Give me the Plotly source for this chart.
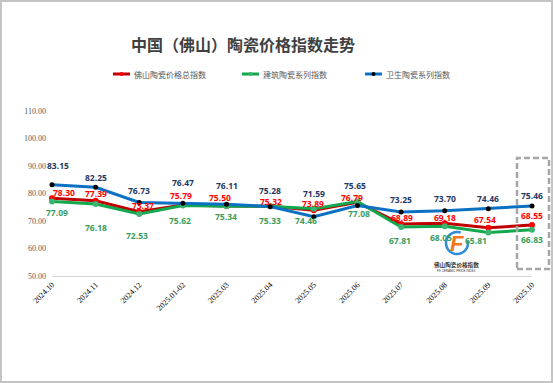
import math
import plotly.graph_objects as go

categories = ["2024.10", "2024.11", "2024.12", "2025.01-02", "2025.03", "2025.04",
              "2025.05", "2025.06", "2025.07", "2025.08", "2025.09", "2025.10"]
total_index = [78.30, 77.39, 73.37, 75.79, 75.50, 75.32, 73.89, 76.79, 68.89, 69.18, 67.54, 68.55]
building_index = [77.09, 76.18, 72.53, 75.62, 75.34, 75.33, 74.46, 77.08, 67.81, 68.05, 65.81, 66.83]
sanitary_index = [83.15, 82.25, 76.73, 76.47, 76.11, 75.28, 71.59, 75.65, 73.25, 73.70, 74.46, 75.46]
y_ticks = [50, 60, 70, 80, 90, 100, 110]

# label nudges (pixels)
red_dx = [12, 0, 4, -2, -7, 1, -1, -5, 1, 0, -3, 0]
red_dy = [6, 7, 6, 10, 8, 5, 7, 5, 7, 6, 8, 9]
green_dx = [5, 0, -2, -3, -1, 0, -8, 2, -1, -4, -12, 0]
green_dy = [-11, -23, -21, -15, -10, -14, -12, -12, -13, -11, -8, -10]
blue_dx = [6, 0, 0, 0, 0, 0, 0, -2, 0, 0, 0, 0]
blue_dy = [19, 10, 12, 21, 19, 16, 23, 20, 13, 12, 10, 10]

W, H = 553, 383
L, R, T, B = 52, 532, 111, 276


def px(x):
    return (x - L) / (R - L)


def py(y):
    return (B - y) / (B - T)


fig = go.Figure()
series = [
    ("佛山陶瓷价格总指数", total_index, "#C00000", "#FF0000", "#FF0000", red_dx, red_dy, 6),
    ("建筑陶瓷系列指数", building_index, "#12A84E", "#3CB371", "#3A9D5D", green_dx, green_dy, 6),
    ("卫生陶瓷系列指数", sanitary_index, "#0A70C4", "#000000", "#1F3864", blue_dx, blue_dy, 5),
]
for name, vals, lc, mc, tc, dxs, dys, ms in series:
    fig.add_trace(go.Scatter(
        x=categories, y=vals, name=name, mode="lines+markers",
        line=dict(color=lc, width=3),
        marker=dict(color=mc, size=ms),
        showlegend=False, cliponaxis=False,
    ))
    for i, (v, dx, dy) in enumerate(zip(vals, dxs, dys)):
        fig.add_annotation(x=i, y=v, text=f"{v:.2f}", showarrow=False,
                           xshift=dx, yshift=dy, xanchor="center", yanchor="middle",
                           font=dict(family="Open Sans", size=8.5, color=tc, weight="bold"))

shapes = []
# custom legend
leg_items = [(113, "佛山陶瓷价格总指数", "#C00000", "#FF0000"),
             (242, "建筑陶瓷系列指数", "#12A84E", "#3CB371"),
             (365, "卫生陶瓷系列指数", "#0A70C4", "#000000")]
for x0, name, lc, mc in leg_items:
    shapes.append(dict(type="line", xref="paper", yref="paper",
                       x0=px(x0), x1=px(x0 + 17), y0=py(74), y1=py(74),
                       line=dict(color=lc, width=3)))
    shapes.append(dict(type="circle", xref="paper", yref="paper",
                       x0=px(x0 + 6.5), x1=px(x0 + 10.5), y0=py(76), y1=py(72),
                       fillcolor=mc, line=dict(width=0)))
    fig.add_annotation(xref="paper", yref="paper", x=px(x0 + 19), y=py(74),
                       xanchor="left", yanchor="middle", text=name, showarrow=False,
                       font=dict(family="Noto Sans CJK SC", size=8, color="#595959"))

# dashed highlight box
shapes.append(dict(type="rect", xref="paper", yref="paper",
                   x0=px(517), x1=px(549), y0=py(269), y1=py(158),
                   line=dict(color="#A6A6A6", width=2.5, dash="6px,3px")))
# outer border
shapes.append(dict(type="rect", xref="paper", yref="paper",
                   x0=px(1), x1=px(552), y0=py(382), y1=py(1),
                   line=dict(color="#C4C4C4", width=2)))
# watermark logo: open blue ring + orange F
cx, cy, rr = 457, 243, 11
pts = []
for k in range(0, 41):
    a = math.radians(70 + k * 7.5)
    pts.append((px(cx + rr * math.cos(a)), py(cy - rr * math.sin(a))))
path = "M " + " L ".join(f"{x:.5f},{y:.5f}" for x, y in pts)
shapes.append(dict(type="path", xref="paper", yref="paper", path=path,
                   line=dict(color="#2E8BD8", width=2.5)))
fig.add_annotation(xref="paper", yref="paper", x=px(cx), y=py(cy), text="<i><b>F</b></i>",
                   xanchor="center", yanchor="middle",
                   showarrow=False, font=dict(family="Liberation Sans", size=22, color="#F07A1A"))
fig.add_annotation(xref="paper", yref="paper", x=px(456), y=py(264.5), text="<b>佛山陶瓷价格指数</b>",
                   xanchor="center", yanchor="middle",
                   showarrow=False, font=dict(family="Noto Sans CJK SC", size=5.6, color="#333333"))
fig.add_annotation(xref="paper", yref="paper", x=px(456), y=py(271), text="FS CERAMIC PRICE INDEX",
                   xanchor="center", yanchor="middle",
                   showarrow=False, font=dict(family="Liberation Sans", size=3, color="#333333"))

fig.update_layout(
    width=W, height=H,
    margin=dict(l=L, r=W - R, t=T, b=H - B, pad=0),
    paper_bgcolor="white", plot_bgcolor="white",
    title=dict(text="中国（佛山）陶瓷价格指数走势", x=243 / W, xanchor="center",
               y=1 - 45 / H, yanchor="middle",
               font=dict(family="Noto Sans CJK SC", size=16, color="#404040", weight="bold")),
    shapes=shapes,
    xaxis=dict(type="category", range=[0, 11], showgrid=False, showline=True,
               linecolor="#D9D9D9", linewidth=1, ticks="", tickangle=-45, automargin=False,
               tickfont=dict(family="Liberation Serif", size=8, color="#000000")),
    yaxis=dict(range=[50, 110], tickvals=y_ticks, tickformat=".2f", showgrid=False,
               zeroline=False, showline=False, ticks="", ticklabelstandoff=5, automargin=False,
               tickfont=dict(family="Liberation Serif", size=8, color="#595959")),
)
fig.write_html("out.html", config={"displayModeBar": False},
               post_script="document.body.style.margin='0';document.body.style.overflow='hidden';")
